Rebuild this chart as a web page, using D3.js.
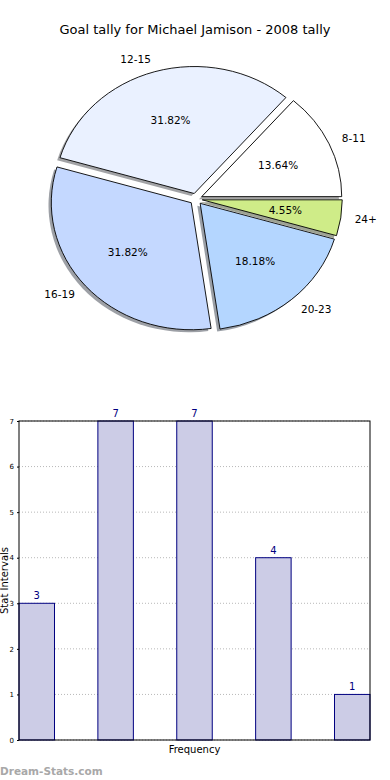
<!DOCTYPE html>
<html><head><meta charset="utf-8">
<script src="https://cdn.jsdelivr.net/npm/d3@7/dist/d3.min.js"></script>
<style>body{margin:0;background:#fff;} svg{display:block;font-family:"DejaVu Sans",sans-serif;}</style>
</head><body>
<script>
const title = "Goal tally for Michael Jamison - 2008 tally";
const categories = ["8-11", "12-15", "16-19", "20-23", "24+"];
const values = [3, 7, 7, 4, 1];
const sliceColors = ["#ffffff", "#eaf1ff", "#c4d8ff", "#b4d6ff", "#cfec88"];
const yTicks = [0, 1, 2, 3, 4, 5, 6, 7];
const xLabel = "Frequency";
const yLabel = "Stat Intervals";
const watermark = "Dream-Stats.com";

const W = 390, H = 780;
const svg = d3.select("body").append("svg").attr("width", W).attr("height", H);

svg.append("text").attr("x", 195).attr("y", 34).attr("text-anchor", "middle")
  .attr("font-size", 13).attr("fill", "#000").text(title);

// ---- Pie ----
const cx = 196, cy = 199, rx = 140, ry = 127, explode = 0.045;
const total = d3.sum(values);
const pie = d3.pie().sort(null).startAngle(Math.PI / 2).endAngle(Math.PI / 2 - 2 * Math.PI);
const arcs = pie(values);
const arc = d3.arc().innerRadius(0).outerRadius(1);
const g = svg.append("g").attr("transform", `translate(${cx},${cy}) scale(${rx},${ry})`);
function mid(d) { return (d.startAngle + d.endAngle) / 2; } // d3 angle: 0 north, clockwise
function off(d, r) { const a = mid(d); return [Math.sin(a) * r, -Math.cos(a) * r]; }

// shadows
g.selectAll("path.shadow").data(arcs).join("path").attr("class", "shadow")
  .attr("d", arc)
  .attr("transform", d => { const o = off(d, explode); return `translate(${o[0] - 0.02},${o[1] + 0.02})`; })
  .attr("fill", (d, i) => { const c = d3.rgb(sliceColors[i]); return d3.rgb(c.r * 0.3, c.g * 0.3, c.b * 0.3).toString(); })
  .attr("opacity", 0.5);
// wedges
g.selectAll("path.wedge").data(arcs).join("path").attr("class", "wedge")
  .attr("d", arc)
  .attr("transform", d => { const o = off(d, explode); return `translate(${o[0]},${o[1]})`; })
  .attr("fill", (d, i) => sliceColors[i])
  .attr("stroke", "#000").attr("stroke-width", 0.9)
  .attr("vector-effect", "non-scaling-stroke");

arcs.forEach((d, i) => {
  const o = off(d, explode), lo = off(d, 1.1), po = off(d, 0.6);
  const lx = cx + rx * (o[0] + lo[0]), ly = cy + ry * (o[1] + lo[1]);
  svg.append("text").attr("x", lx).attr("y", ly).attr("dy", "0.35em")
    .attr("text-anchor", lo[0] > 0 ? "start" : "end")
    .attr("font-size", 10.5).attr("fill", "#000").text(categories[i]);
  svg.append("text").attr("x", cx + rx * (o[0] + po[0])).attr("y", cy + ry * (o[1] + po[1])).attr("dy", "0.35em")
    .attr("text-anchor", "middle").attr("font-size", 10.5).attr("fill", "#000")
    .text((values[i] / total * 100).toFixed(2) + "%");
});

// ---- Bar chart ----
const L = 19, R = 370, T = 421, B = 740, barW = 0.45;
const x = d3.scaleLinear().domain([0, values.length - 1 + barW]).range([L, R]);
const y = d3.scaleLinear().domain([0, 7]).range([B, T]);

const grid = svg.append("g");
yTicks.forEach(t => {
  grid.append("line").attr("x1", L).attr("x2", R).attr("y1", y(t)).attr("y2", y(t))
    .attr("stroke", "#b8b8b8").attr("stroke-width", 1).attr("stroke-dasharray", "1,2");
});

svg.append("g").selectAll("rect").data(values).join("rect")
  .attr("x", (d, i) => x(i)).attr("width", x(barW) - x(0))
  .attr("y", d => y(d)).attr("height", d => B - y(d))
  .attr("fill", "#ccccE6").attr("stroke", "#000080").attr("stroke-width", 1);

svg.append("g").selectAll("text").data(values).join("text")
  .attr("x", (d, i) => x(i + barW / 2)).attr("y", d => y(d) - 4)
  .attr("text-anchor", "middle").attr("font-size", 10).attr("fill", "#000080")
  .text(d => d);

svg.append("rect").attr("x", L).attr("y", T).attr("width", R - L).attr("height", B - T)
  .attr("fill", "none").attr("stroke", "#000").attr("stroke-width", 1);

const yAxis = d3.axisLeft(y).tickValues(yTicks).tickFormat(d3.format("d")).tickSize(2).tickPadding(3);
const ya = svg.append("g").attr("transform", `translate(${L},0)`).call(yAxis);
ya.select(".domain").remove();
ya.selectAll("text").attr("font-size", 7).attr("font-family", "DejaVu Sans");

svg.append("text").attr("x", (L + R) / 2).attr("y", 753).attr("text-anchor", "middle")
  .attr("font-size", 10).attr("fill", "#000").text(xLabel);
svg.append("text").attr("transform", `translate(8,${(T + B) / 2}) rotate(-90)`)
  .attr("text-anchor", "middle").attr("font-size", 10).attr("fill", "#000").text(yLabel);

svg.append("text").attr("x", 0).attr("y", 775).attr("font-size", 10.5).attr("font-weight", "bold")
  .attr("fill", "#a8a8a8").text(watermark);
</script>
</body></html>
